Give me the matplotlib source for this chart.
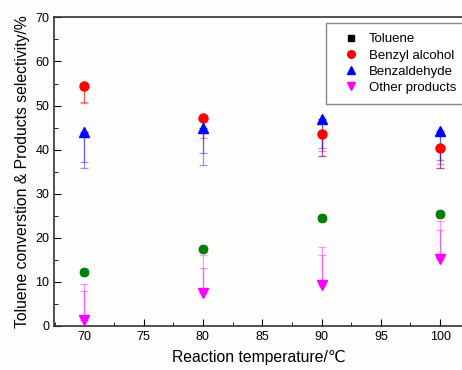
import matplotlib
matplotlib.use('Agg')
import matplotlib.pyplot as plt
from matplotlib.ticker import MultipleLocator

plt.rcParams['font.family'] = ['Liberation Sans', 'DejaVu Sans']

# dados
temps = [70, 80, 90, 100]
toluene = [12.2, 17.5, 24.6, 25.4]
alcohol = [54.4, 47.2, 43.5, 40.4]
aldehyde = [43.9, 45.0, 47.0, 44.3]
others = [1.4, 7.4, 9.3, 15.1]

# barras de erro (um lado so), longa e curta
alcohol_err = [3.9, 4.6, 4.9, 4.5]
alcohol_err2 = [3.5, 3.4, 3.7, 3.7]
aldehyde_err = [8.0, 8.4, 8.4, 8.4]
aldehyde_err2 = [6.6, 5.7, 6.7, 6.6]
others_err = [8.2, 8.7, 8.6, 8.6]
others_err2 = [6.6, 5.8, 6.7, 6.7]

fig = plt.figure(figsize=(4.62, 3.70), dpi=100)
fig.patch.set_facecolor('#fdfdfb')
ax = fig.add_axes([0.117, 0.119, 0.887, 0.834])
ax.set_facecolor('#fdfdfb')

def one_side(x, y, err, color, down):
    if down:
        yerr = [err, [0] * len(err)]
    else:
        yerr = [[0] * len(err), err]
    ax.errorbar(x, y, yerr=yerr, fmt='none', ecolor=color, alpha=0.4,
                elinewidth=0.9, capsize=2.8, capthick=0.9, zorder=2)

one_side(temps, alcohol, alcohol_err, 'red', True)
one_side(temps, alcohol, alcohol_err2, 'red', True)
one_side(temps, aldehyde, aldehyde_err, 'blue', True)
one_side(temps, aldehyde, aldehyde_err2, 'blue', True)
one_side(temps, others, others_err, 'magenta', False)
one_side(temps, others, others_err2, 'magenta', False)

ax.plot(temps, toluene, 's', color='black', ms=5, label='Toluene', zorder=3)
ax.plot(temps, toluene, 's', color='green', ms=5, zorder=4)
ax.plot(temps, toluene, 'o', color='green', ms=6, zorder=4)
ax.plot(temps, alcohol, 'o', color='red', ms=6.5, label='Benzyl alcohol', zorder=4)
ax.plot(temps, aldehyde, '^', color='blue', ms=6.5, label='Benzaldehyde', zorder=4)
ax.plot(temps, others, 'v', color='magenta', ms=6.5, label='Other products', zorder=4)

ax.set_xlim(67.45, 102)
ax.set_ylim(0, 70)
ax.xaxis.set_major_locator(MultipleLocator(5))
ax.xaxis.set_minor_locator(MultipleLocator(2.5))
ax.yaxis.set_major_locator(MultipleLocator(10))
ax.yaxis.set_minor_locator(MultipleLocator(5))
ax.tick_params(which='both', direction='in', labelsize=9)
ax.tick_params(which='major', length=5)
ax.tick_params(which='minor', length=3)
for s in ax.spines.values():
    s.set_linewidth(1.2)
    s.set_color('#333333')

ax.set_xlabel('Reaction temperature/℃', fontsize=11.3, labelpad=5)
ax.set_ylabel('Toluene converstion & Products selectivity/%', fontsize=11.3, labelpad=4)

leg = ax.legend(loc='upper left', bbox_to_anchor=(0.664, 0.981), fontsize=9.5,
                fancybox=False, edgecolor='#888888', markerscale=0.85,
                handlelength=2.3, handletextpad=0.2, labelspacing=0.3,
                borderpad=0.75, borderaxespad=0, framealpha=1, facecolor='white')
leg.get_frame().set_linewidth(1)

fig.savefig('out.png', dpi=100, facecolor=fig.get_facecolor())
